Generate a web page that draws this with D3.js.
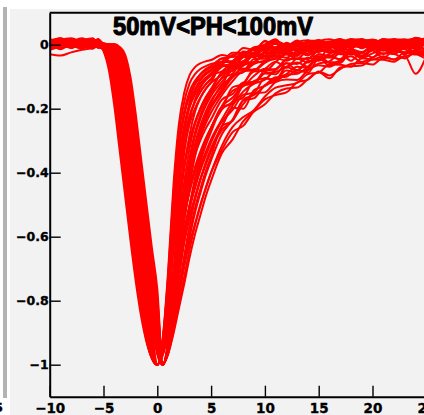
<!DOCTYPE html>
<html><head><meta charset="utf-8">
<script src="https://cdn.jsdelivr.net/npm/d3@7"></script>
<style>body{margin:0;background:#fff}svg{display:block}</style>
</head><body>
<svg id="c" width="424" height="415"></svg>
<script>
// ---- data ----
const titleText = "50mV<PH<100mV";
const times = [-10,-9,-8,-7,-6,-5.5,-5,-4.5,-4,-3.5,-3,-2.5,-2,-1.5,-1,-0.5,0,0.5,1,1.5,2,2.5,3,3.5,4,4.5,5,6,7,8,9,10,11,12,13,14,15,16,17,18,19,20,21,22,23,24,25];
const trace00 = [0.012,-0.008,0.015,0.004,-0.01,0.001,-0.02,-0.08,-0.19,-0.33,-0.47,-0.61,-0.74,-0.85,-0.93,-0.98,-1,-0.92,-0.71,-0.44,-0.25,-0.15,-0.095,-0.07,-0.058,-0.052,-0.048,-0.032,-0.038,-0.01,-0.016,0.01,0.002,-0.01,0.008,0.014,-0.006,0.004,0.012,-0.008,0.006,0.016,0.002,-0.01,0.01,0.004,0.012];
const trace01 = [-0.006,0.01,0.002,0.014,0.006,-0.007,-0.016,-0.066,-0.166,-0.302,-0.442,-0.582,-0.714,-0.83,-0.922,-0.98,-1,-0.952,-0.847,-0.705,-0.572,-0.465,-0.377,-0.313,-0.262,-0.221,-0.189,-0.148,-0.101,-0.074,-0.079,-0.051,-0.033,-0.041,-0.022,-0.033,-0.012,0.002,-0.01,0.006,-0.01,0.005,0.013,0.002,-0.01,0.01,0.0];
const trace02 = [0.008,0.016,-0.006,0.002,0.012,0.003,-0.012,-0.052,-0.142,-0.274,-0.414,-0.554,-0.688,-0.813,-0.917,-0.979,-1,-0.935,-0.775,-0.565,-0.4,-0.295,-0.223,-0.178,-0.147,-0.124,-0.107,-0.069,-0.059,-0.052,-0.024,-0.009,-0.015,-0.005,-0.02,-0.003,0.007,-0.002,-0.012,0.008,0.012,-0.004,0.01,0.018,0.004,-0.006,0.01];
const trace03 = [0.002,-0.012,0.008,-0.004,0.01,-0.002,-0.009,-0.04,-0.12,-0.246,-0.386,-0.526,-0.662,-0.788,-0.905,-0.976,-1,-0.964,-0.889,-0.795,-0.704,-0.615,-0.539,-0.478,-0.42,-0.374,-0.33,-0.267,-0.237,-0.185,-0.152,-0.149,-0.117,-0.109,-0.11,-0.08,-0.064,-0.069,-0.049,-0.036,-0.054,-0.04,-0.027,-0.029,-0.043,-0.023,-0.033];
const trace04 = [0.014,0.004,0.01,-0.008,0.016,0.008,-0.007,-0.03,-0.1,-0.218,-0.358,-0.498,-0.636,-0.764,-0.89,-0.973,-1,-0.926,-0.736,-0.49,-0.31,-0.208,-0.146,-0.113,-0.093,-0.081,-0.071,-0.062,-0.032,-0.026,-0.029,-0.001,0.011,-0.002,-0.011,0.01,0.005,-0.004,0.016,0.006,0.012,-0.006,0.008,0.014,0.002,0.02,0.01];
const trace05 = [-0.01,-0.002,0.012,0.006,-0.006,0.004,-0.005,-0.02,-0.08,-0.19,-0.33,-0.47,-0.61,-0.74,-0.872,-0.968,-1,-0.958,-0.868,-0.75,-0.638,-0.54,-0.458,-0.395,-0.341,-0.297,-0.259,-0.192,-0.144,-0.13,-0.097,-0.075,-0.078,-0.046,-0.044,-0.045,-0.02,-0.02,-0.03,-0.012,0.0,-0.004,-0.015,0.0,0.007,-0.006,0.001];
const trace06 = [0.006,0.012,-0.004,0.016,0.002,0.01,-0.003,-0.016,-0.066,-0.166,-0.302,-0.442,-0.582,-0.714,-0.849,-0.962,-1,-0.944,-0.814,-0.64,-0.49,-0.382,-0.299,-0.242,-0.2,-0.166,-0.142,-0.09,-0.082,-0.052,-0.03,-0.035,-0.036,-0.012,-0.001,-0.01,-0.014,0.004,0.003,0.016,-0.002,0.008,0.012,0.002,0.014,0.006,-0.004];
const trace07 = [0.016,0.006,-0.002,0.01,0.014,0.002,-0.001,-0.012,-0.052,-0.142,-0.274,-0.414,-0.554,-0.688,-0.819,-0.955,-1,-0.97,-0.91,-0.84,-0.77,-0.69,-0.62,-0.56,-0.5,-0.45,-0.4,-0.329,-0.273,-0.253,-0.206,-0.171,-0.157,-0.149,-0.118,-0.109,-0.084,-0.096,-0.076,-0.06,-0.057,-0.062,-0.041,-0.046,-0.037,-0.028,-0.036];
const trace08 = [-0.004,0.008,0.014,-0.01,0.004,0.012,0.0,-0.009,-0.04,-0.12,-0.246,-0.386,-0.526,-0.662,-0.788,-0.945,-1,-0.932,-0.762,-0.54,-0.37,-0.266,-0.197,-0.156,-0.129,-0.109,-0.095,-0.083,-0.051,-0.027,-0.027,-0.033,-0.009,0.004,-0.002,-0.013,-0.003,0.009,0.016,0.006,-0.008,0.01,0.004,-0.004,0.012,0.006,0.016];
const trace09 = [0.01,-0.004,0.006,0.012,-0.008,0.008,0.0,-0.007,-0.03,-0.1,-0.218,-0.358,-0.498,-0.636,-0.764,-0.93,-1,-0.954,-0.854,-0.72,-0.594,-0.49,-0.404,-0.34,-0.288,-0.246,-0.212,-0.158,-0.114,-0.082,-0.081,-0.057,-0.042,-0.05,-0.032,-0.014,-0.012,-0.025,-0.006,0.004,-0.005,0.01,-0.009,0.003,0.0,-0.014,0.008];
const trace10 = [0.004,0.014,0.008,-0.006,0.012,-0.002,0.0,-0.005,-0.02,-0.08,-0.19,-0.33,-0.47,-0.61,-0.74,-0.872,-0.968,-1,-0.923,-0.723,-0.465,-0.28,-0.179,-0.121,-0.092,-0.076,-0.066,-0.043,-0.038,-0.034,-0.008,-0.004,0.009,-0.001,0.007,-0.008,0.011,0.017,0.004,-0.004,0.01,0.014,0.006,0.012,-0.002,0.008,0.022];
const trace11 = [-0.03,-0.034,-0.024,-0.016,-0.01,-0.006,-0.003,-0.003,-0.016,-0.066,-0.166,-0.302,-0.442,-0.582,-0.714,-0.849,-0.962,-1,-0.947,-0.827,-0.665,-0.52,-0.411,-0.325,-0.264,-0.217,-0.181,-0.125,-0.102,-0.065,-0.054,-0.054,-0.025,-0.028,-0.03,-0.011,0.0,-0.005,-0.015,0.004,0.01,-0.002,0.012,0.004,-0.006,0.01,0.002];
const trace12 = [0.008,0.002,0.016,0.006,0.01,0.014,0.0,-0.001,-0.012,-0.052,-0.142,-0.274,-0.414,-0.554,-0.688,-0.819,-0.955,-1,-0.966,-0.896,-0.81,-0.726,-0.64,-0.566,-0.505,-0.447,-0.399,-0.316,-0.257,-0.226,-0.204,-0.162,-0.134,-0.127,-0.119,-0.092,-0.087,-0.062,-0.063,-0.069,-0.042,-0.046,-0.036,-0.046,-0.024,-0.028,-0.032];
const trace13 = [0.0,0.01,0.004,0.018,0.008,0.0,0.004,0.0,-0.009,-0.04,-0.12,-0.246,-0.386,-0.526,-0.662,-0.788,-0.945,-1,-0.938,-0.788,-0.59,-0.43,-0.324,-0.248,-0.199,-0.164,-0.138,-0.086,-0.07,-0.057,-0.032,-0.015,-0.02,-0.024,-0.002,-0.003,-0.007,0.002,0.012,0.011,0.004,-0.006,0.012,0.008,0.016,0.01,0.004];
const trace14 = [0.012,0.018,0.01,0.002,0.016,0.006,0.003,0.0,-0.007,-0.03,-0.1,-0.218,-0.358,-0.498,-0.636,-0.764,-0.93,-1,-0.96,-0.875,-0.765,-0.66,-0.565,-0.485,-0.423,-0.368,-0.323,-0.256,-0.19,-0.146,-0.122,-0.109,-0.077,-0.058,-0.06,-0.041,-0.046,-0.029,-0.015,-0.014,-0.023,-0.01,0.0,-0.011,-0.014,-0.031,-0.016];
const trace15 = [0.006,-0.008,0.012,0.004,-0.006,0.01,-0.002,0.0,-0.005,-0.02,-0.08,-0.19,-0.33,-0.47,-0.61,-0.74,-0.911,-1,-0.929,-0.749,-0.515,-0.34,-0.237,-0.172,-0.135,-0.111,-0.095,-0.064,-0.065,-0.037,-0.017,-0.017,-0.02,0.002,0.0,-0.01,0.012,0.003,-0.01,0.01,0.018,0.002,-0.006,0.012,0.008,0.014,-0.002];
const trace16 = [-0.008,0.004,-0.002,0.01,0.0,-0.006,0.002,0.0,-0.003,-0.016,-0.066,-0.166,-0.302,-0.442,-0.582,-0.714,-0.882,-1,-0.95,-0.84,-0.69,-0.55,-0.44,-0.35,-0.285,-0.235,-0.195,-0.138,-0.095,-0.084,-0.054,-0.036,-0.043,-0.027,-0.015,-0.017,-0.023,0.0,0.01,0.002,-0.004,0.012,0.008,-0.006,0.01,0.004,0.014];
const trace17 = [0.01,0.004,-0.006,0.006,0.012,0.016,0.004,0.0,-0.001,-0.012,-0.052,-0.142,-0.274,-0.414,-0.554,-0.688,-0.835,-1,-0.968,-0.903,-0.825,-0.748,-0.665,-0.593,-0.533,-0.474,-0.425,-0.339,-0.296,-0.239,-0.209,-0.186,-0.152,-0.137,-0.134,-0.108,-0.086,-0.105,-0.071,-0.067,-0.065,-0.046,-0.047,-0.053,-0.035,-0.091,-0.035];
const trace18 = [0.004,-0.004,0.01,-0.002,0.008,0.012,0.003,0.002,0.0,-0.009,-0.04,-0.12,-0.246,-0.386,-0.526,-0.662,-0.788,-1,-0.941,-0.801,-0.615,-0.46,-0.353,-0.274,-0.221,-0.182,-0.152,-0.104,-0.071,-0.062,-0.055,-0.025,-0.026,-0.007,-0.021,-0.007,0.002,-0.007,0.006,0.017,0.006,-0.004,0.014,0.008,0.002,0.012,0.006];
const trace19 = [-0.002,0.012,0.006,0.014,-0.004,0.006,0.002,0.0,0.002,-0.007,-0.03,-0.1,-0.218,-0.358,-0.498,-0.636,-0.764,-1,-0.956,-0.861,-0.735,-0.616,-0.515,-0.431,-0.368,-0.315,-0.272,-0.194,-0.165,-0.121,-0.084,-0.081,-0.076,-0.046,-0.043,-0.044,-0.016,-0.016,-0.023,-0.002,-0.009,0.006,-0.002,-0.01,0.003,-0.002,0.006];
const trace20 = [-0.004,0.014,0.02,0.006,-0.012,0.008,-0.016,-0.066,-0.166,-0.302,-0.442,-0.582,-0.714,-0.832,-0.924,-0.98,-1,-0.928,-0.743,-0.503,-0.325,-0.223,-0.159,-0.124,-0.103,-0.088,-0.078,-0.043,-0.055,-0.021,-0.028,0.012,-0.011,0.002,-0.016,0.012,0.012,-0.007,0.01,-0.006,0.017,-0.004,0.018,0.0,0.015,-0.013,0.017];
const trace21 = [0.018,0.004,-0.01,0.012,0.02,-0.004,-0.014,-0.055,-0.145,-0.274,-0.414,-0.554,-0.688,-0.807,-0.91,-0.977,-1,-0.923,-0.723,-0.465,-0.28,-0.179,-0.121,-0.092,-0.076,-0.067,-0.06,-0.053,-0.025,-0.026,-0.011,0.001,0.017,-0.018,0.006,0.006,0.014,0.004,0.004,0.011,0.003,0.015,-0.003,0.016,0.002,0.018,0.001];
const trace22 = [0.006,-0.014,0.004,0.016,0.01,-0.008,-0.013,-0.053,-0.143,-0.274,-0.414,-0.554,-0.688,-0.809,-0.914,-0.978,-1,-0.958,-0.868,-0.75,-0.638,-0.54,-0.458,-0.396,-0.341,-0.298,-0.26,-0.202,-0.177,-0.12,-0.12,-0.088,-0.085,-0.069,-0.056,-0.069,-0.03,-0.04,-0.018,-0.025,-0.026,-0.004,-0.015,-0.004,-0.031,0.005,-0.023];
const trace23 = [-0.012,0.006,0.018,-0.006,0.008,0.014,-0.01,-0.041,-0.121,-0.246,-0.386,-0.526,-0.662,-0.789,-0.904,-0.976,-1,-0.931,-0.756,-0.528,-0.355,-0.252,-0.185,-0.146,-0.12,-0.103,-0.089,-0.056,-0.052,-0.031,-0.013,-0.013,0.004,-0.014,-0.004,0.008,-0.006,0.007,0.008,-0.001,0.0,0.007,0.013,0.006,0.015,0.001,0.018];
const trace24 = [0.01,0.0,-0.008,0.014,-0.004,0.018,-0.007,-0.03,-0.1,-0.218,-0.358,-0.498,-0.636,-0.764,-0.889,-0.972,-1,-0.961,-0.879,-0.773,-0.671,-0.578,-0.499,-0.437,-0.381,-0.336,-0.295,-0.234,-0.181,-0.164,-0.113,-0.106,-0.108,-0.07,-0.081,-0.051,-0.05,-0.035,-0.046,-0.01,-0.037,-0.016,-0.009,-0.023,-0.008,-0.011,-0.028];
const trace25 = [0.002,0.02,-0.004,0.008,0.016,-0.01,-0.005,-0.023,-0.083,-0.192,-0.33,-0.47,-0.609,-0.739,-0.87,-0.968,-1,-0.935,-0.775,-0.565,-0.4,-0.295,-0.223,-0.178,-0.147,-0.124,-0.107,-0.064,-0.067,-0.033,-0.036,-0.008,-0.009,-0.019,0.002,-0.008,0.009,-0.004,-0.002,0.017,0.015,-0.009,0.014,-0.006,0.014,0.005,0.015];
const trace26 = [-0.006,0.008,0.016,0.002,-0.01,0.012,-0.003,-0.016,-0.066,-0.166,-0.302,-0.442,-0.582,-0.714,-0.846,-0.962,-1,-0.964,-0.889,-0.795,-0.704,-0.615,-0.539,-0.478,-0.421,-0.374,-0.33,-0.255,-0.197,-0.2,-0.142,-0.129,-0.106,-0.094,-0.091,-0.069,-0.04,-0.066,-0.047,-0.026,-0.041,-0.027,-0.016,-0.029,-0.007,-0.003,-0.022];
const trace27 = [0.014,-0.006,0.008,0.02,0.004,-0.002,-0.002,-0.013,-0.053,-0.143,-0.274,-0.414,-0.554,-0.688,-0.819,-0.954,-1,-0.938,-0.788,-0.59,-0.43,-0.324,-0.248,-0.199,-0.165,-0.138,-0.119,-0.095,-0.061,-0.028,-0.039,-0.026,-0.029,0.006,-0.014,-0.006,0.005,-0.003,0.014,0.003,0.007,0.003,0.018,0.013,0.001,0.012,0.016];
const trace28 = [-0.01,0.004,0.012,-0.004,0.018,0.006,-0.001,-0.01,-0.041,-0.121,-0.246,-0.386,-0.526,-0.662,-0.792,-0.943,-1,-0.962,-0.882,-0.78,-0.682,-0.59,-0.512,-0.45,-0.394,-0.348,-0.306,-0.24,-0.204,-0.156,-0.15,-0.104,-0.112,-0.092,-0.069,-0.072,-0.036,-0.055,-0.053,-0.018,-0.035,-0.018,-0.041,-0.016,-0.009,-0.027,-0.044];
const trace29 = [0.008,0.016,0.0,-0.012,0.006,0.014,0.0,-0.007,-0.03,-0.1,-0.218,-0.358,-0.498,-0.636,-0.764,-0.909,-1,-0.955,-0.843,-0.632,-0.418,-0.273,-0.188,-0.139,-0.111,-0.093,-0.081,-0.053,-0.053,-0.025,-0.03,-0.011,0.012,-0.004,0.013,-0.007,-0.006,0.007,0.018,-0.011,0.013,0.006,0.015,-0.004,0.011,0.019,0.013];
const trace30 = [-0.016,-0.004,0.01,0.004,-0.012,0.002,-0.002,-0.005,-0.023,-0.083,-0.192,-0.33,-0.47,-0.609,-0.739,-0.89,-1,-0.97,-0.901,-0.774,-0.63,-0.505,-0.408,-0.333,-0.276,-0.232,-0.197,-0.148,-0.098,-0.086,-0.06,-0.05,-0.044,-0.027,-0.035,-0.003,-0.014,-0.001,-0.017,0.012,-0.009,0.014,0.008,-0.006,0.011,0.002,-0.003];
const trace31 = [0.012,0.02,0.006,-0.008,0.014,0.004,0.0,-0.003,-0.016,-0.066,-0.166,-0.302,-0.442,-0.582,-0.714,-0.846,-0.962,-1,-0.945,-0.81,-0.638,-0.503,-0.41,-0.344,-0.299,-0.262,-0.233,-0.172,-0.154,-0.118,-0.116,-0.077,-0.053,-0.072,-0.044,-0.056,-0.03,-0.035,-0.02,-0.031,-0.026,-0.004,-0.019,-0.009,-0.025,0.0,-0.001];
const trace32 = [0.004,-0.01,0.014,0.008,0.0,0.016,0.0,-0.002,-0.013,-0.053,-0.143,-0.274,-0.414,-0.554,-0.688,-0.819,-0.954,-1,-0.943,-0.808,-0.628,-0.475,-0.368,-0.287,-0.232,-0.191,-0.16,-0.116,-0.078,-0.065,-0.031,-0.043,-0.013,-0.02,-0.028,0.003,0.0,-0.012,0.01,0.002,0.015,0.01,0.002,0.012,-0.003,0.022,0.011];
const trace33 = [-0.008,0.012,0.002,0.016,-0.006,0.01,0.002,-0.001,-0.01,-0.041,-0.121,-0.246,-0.386,-0.526,-0.662,-0.792,-0.943,-1,-0.963,-0.886,-0.788,-0.693,-0.603,-0.526,-0.464,-0.408,-0.361,-0.28,-0.234,-0.174,-0.167,-0.126,-0.114,-0.081,-0.086,-0.077,-0.059,-0.052,-0.027,-0.05,-0.023,-0.04,-0.012,-0.019,-0.025,-0.018,-0.034];
const trace34 = [0.016,0.006,-0.006,0.01,0.018,0.002,0.001,0.0,-0.007,-0.03,-0.1,-0.218,-0.358,-0.498,-0.636,-0.764,-0.928,-1,-0.934,-0.769,-0.553,-0.385,-0.281,-0.21,-0.167,-0.138,-0.117,-0.065,-0.074,-0.039,-0.037,-0.01,-0.008,-0.019,0.009,-0.013,0.015,-0.007,0.009,0.005,-0.003,0.008,-0.005,0.016,0.016,0.0,0.015];
const trace35 = [0.0,-0.012,0.008,-0.004,0.012,0.006,0.003,0.0,-0.005,-0.023,-0.083,-0.192,-0.33,-0.47,-0.609,-0.739,-0.906,-1,-0.955,-0.858,-0.728,-0.605,-0.503,-0.418,-0.354,-0.302,-0.259,-0.201,-0.133,-0.123,-0.076,-0.083,-0.054,-0.031,-0.044,-0.019,-0.047,-0.007,-0.013,0.008,-0.008,-0.007,0.016,-0.015,0.008,-0.01,-0.013];
const trace36 = [0.01,0.018,0.004,-0.008,0.002,0.012,0.001,0.0,-0.003,-0.016,-0.066,-0.166,-0.302,-0.442,-0.582,-0.714,-0.873,-1,-0.949,-0.826,-0.67,-0.544,-0.451,-0.383,-0.334,-0.293,-0.26,-0.194,-0.185,-0.128,-0.121,-0.09,-0.092,-0.058,-0.079,-0.053,-0.047,-0.039,-0.045,-0.021,-0.034,-0.016,-0.015,-0.029,-0.004,-0.025,-0.025];
const trace37 = [-0.006,0.008,0.018,0.0,-0.01,0.004,0.003,0.001,-0.002,-0.013,-0.053,-0.143,-0.274,-0.414,-0.554,-0.688,-0.835,-1,-0.946,-0.821,-0.653,-0.505,-0.397,-0.312,-0.253,-0.209,-0.174,-0.129,-0.071,-0.079,-0.045,-0.043,-0.027,-0.021,-0.006,-0.022,-0.005,0.01,0.0,0.016,-0.011,0.014,0.005,0.013,-0.004,0.016,0.014];
const trace38 = [0.014,0.002,-0.01,0.006,0.016,0.008,0.003,0.0,0.001,-0.01,-0.041,-0.121,-0.246,-0.386,-0.526,-0.662,-0.8,-1,-0.962,-0.882,-0.78,-0.682,-0.59,-0.512,-0.451,-0.395,-0.349,-0.255,-0.237,-0.172,-0.157,-0.128,-0.102,-0.1,-0.079,-0.088,-0.043,-0.057,-0.057,-0.023,-0.043,-0.01,-0.029,-0.018,-0.024,-0.027,-0.025];
const trace39 = [-0.014,0.004,0.012,-0.002,0.008,0.016,-0.014,-0.059,-0.154,-0.288,-0.428,-0.568,-0.701,-0.822,-0.92,-0.98,-1,-0.944,-0.811,-0.635,-0.486,-0.38,-0.3,-0.246,-0.205,-0.173,-0.148,-0.105,-0.09,-0.051,-0.058,-0.02,-0.036,-0.015,-0.015,-0.028,0.009,-0.004,-0.001,-0.005,0.009,0.015,0.006,0.0,0.009,0.008,-0.003];
const traces = [trace00,trace01,trace02,trace03,trace04,trace05,trace06,trace07,trace08,trace09,
                trace10,trace11,trace12,trace13,trace14,trace15,trace16,trace17,trace18,trace19,
                trace20,trace21,trace22,trace23,trace24,trace25,trace26,trace27,trace28,trace29,
                trace30,trace31,trace32,trace33,trace34,trace35,trace36,trace37,trace38,trace39];

const xMajorTicks = [-10,-5,0,5,10,15,20,25];
const xTickLabels = ["\u221210","\u22125","0","5","10","15","20","25"];
const yMajorTicks = [0,-0.2,-0.4,-0.6,-0.8,-1];
const yTickLabels = ["0","\u22120.2","\u22120.4","\u22120.6","\u22120.8","\u22121"];

// ---- layout ----
const svg = d3.select("#c");
const L = 49.7, R = 426.3, T = 12.7, B = 396.7;
const x = d3.scaleLinear().domain([-10, 25]).range([L, R]);
const y = d3.scaleLinear().domain([-1.1, 0.1]).range([B, T]);

svg.append("rect").attr("width",424).attr("height",415).attr("fill","#ffffff");
svg.append("rect").attr("x",10).attr("y",9).attr("width",414).attr("height",406).attr("fill","#f2f2f2");
svg.append("rect").attr("x",3).attr("y",7).attr("width",4).attr("height",391).attr("fill","#b3b3b3");
svg.append("text").attr("x",3).attr("y",412).attr("text-anchor","end")
  .attr("font-family","DejaVu Sans").attr("font-weight","bold").attr("font-size",13)
  .attr("stroke","#000").attr("stroke-width",0.3).text("5");

svg.append("defs").append("clipPath").attr("id","clip")
  .append("rect").attr("x",L).attr("y",T).attr("width",R-L).attr("height",B-T);

const line = d3.line().x((d,i)=>x(times[i])).y(d=>y(d)).curve(d3.curveMonotoneX);
svg.append("g").attr("clip-path","url(#clip)")
  .selectAll("path").data(traces).join("path")
  .attr("d", line).attr("fill","none").attr("stroke","#ff0000")
  .attr("stroke-width",2).attr("stroke-linejoin","round");

// axes
const xMinor = d3.range(-10, 26, 1);
const yMinor = d3.range(-22, 3).map(v => v*0.05);
const gx = svg.append("g").attr("transform",`translate(0,${B})`);
gx.call(d3.axisBottom(x).tickValues(xMinor).tickSize(-5.5).tickSizeOuter(0).tickFormat(""));
gx.call(d3.axisBottom(x).tickValues(xMajorTicks).tickSize(-11).tickSizeOuter(0).tickPadding(6.5)
  .tickFormat((d,i)=>xTickLabels[i]));
const gy = svg.append("g").attr("transform",`translate(${L},0)`);
gy.call(d3.axisLeft(y).tickValues(yMinor).tickSize(-5.5).tickSizeOuter(0).tickFormat(""));
gy.call(d3.axisLeft(y).tickValues(yMajorTicks).tickSize(-11).tickSizeOuter(0).tickPadding(1)
  .tickFormat((d,i)=>yTickLabels[i]));
svg.selectAll(".domain").attr("stroke","#000").attr("stroke-width",2);
svg.selectAll(".tick line").attr("stroke","#000").attr("stroke-width",1.4);
gx.selectAll("text").attr("font-family","DejaVu Sans").attr("font-weight","bold").attr("font-size",13.5)
  .attr("fill","#000").attr("stroke","#000").attr("stroke-width",0.35);
gy.selectAll("text").attr("font-family","DejaVu Sans").attr("font-weight","bold").attr("font-size",12.5)
  .attr("fill","#000").attr("stroke","#000").attr("stroke-width",0.35);

// top frame line
svg.append("line").attr("x1",L).attr("x2",R).attr("y1",T).attr("y2",T).attr("stroke","#000").attr("stroke-width",2);

// title
svg.append("text").attr("x",113).attr("y",35)
  .attr("font-family","Liberation Sans, Arial, sans-serif").attr("font-weight","bold").attr("font-size",25)
  .attr("textLength",200).attr("lengthAdjust","spacingAndGlyphs")
  .attr("fill","#000").attr("stroke","#000").attr("stroke-width",1.1).attr("stroke-linejoin","round")
  .text(titleText);
</script>
</body></html>
